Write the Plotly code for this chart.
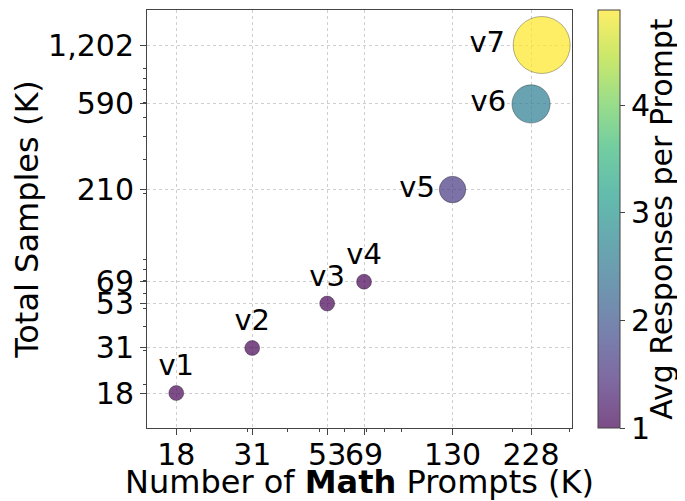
import numpy as np
import plotly.graph_objects as go
import plotly.express as px

# Data
versions = ["v1", "v2", "v3", "v4", "v5", "v6", "v7"]
math_prompts = [18, 31, 53, 69, 130, 228, 246]        # K
total_samples = [18, 31, 53, 69, 210, 590, 1202]      # K

x_tickvals = [18, 31, 53, 69, 130, 228]
x_ticktext = ["18", "31", "53", "69", "130", "228"]
y_tickvals = [18, 31, 53, 69, 210, 590, 1202]
y_ticktext = ["18", "31", "53", "69", "210", "590", "1,202"]

avg_resp = np.array(total_samples) / np.array(math_prompts)

# bubble diameter grows with responses per prompt
sizes = np.sqrt(780 * avg_resp - 555)

# viridis with 0.7 alpha (matplotlib look)
def to_rgba(h, a=0.7):
    h = h.lstrip("#")
    r, g, b = int(h[0:2], 16), int(h[2:4], 16), int(h[4:6], 16)
    return f"rgba({r},{g},{b},{a})"

vir = px.colors.sequential.Viridis
cscale = [[i / (len(vir) - 1), to_rgba(c)] for i, c in enumerate(vir)]

textpos = ["top center"] * 4 + ["middle left"] * 3

FONT = "DejaVu Sans"
FS = 30      # ticks
FL = 29      # point labels
FT = 32      # axis titles

fig = go.Figure(go.Scatter(
    x=math_prompts,
    y=total_samples,
    mode="markers+text",
    text=versions,
    textposition=textpos,
    textfont=dict(family=FONT, size=FL, color="black"),
    marker=dict(
        size=sizes,
        sizemode="diameter",
        color=avg_resp,
        colorscale=cscale,
        cmin=avg_resp.min(),
        cmax=avg_resp.max(),
        opacity=1,
        line=dict(color="rgba(0,0,0,0.6)", width=0.5),
        showscale=True,
        colorbar=dict(
            x=1.061, xanchor="left", xref="paper",
            y=0, yanchor="bottom", len=1, lenmode="fraction",
            thickness=22, xpad=0, ypad=0,
            outlinecolor="#444", outlinewidth=1,
            tickvals=[1, 2, 3, 4],
            ticks="outside", ticklen=5, tickcolor="#444",
            tickfont=dict(family=FONT, size=FS, color="black"),
        ),
    ),
    showlegend=False,
    hoverinfo="skip",
))

axis_common = dict(
    type="log", automargin=False, tickangle=0,
    showline=True, mirror=True, linecolor="#444", linewidth=1,
    ticks="outside", ticklen=6, tickcolor="#444",
    showgrid=True, gridcolor="#cfcfcf", griddash="dot", gridwidth=1,
    zeroline=False,
    tickfont=dict(family=FONT, size=FS, color="black"),
)

fig.update_xaxes(
    **axis_common,
    range=[np.log10(14.6), np.log10(305.6)],
    tickmode="array", tickvals=x_tickvals, ticktext=x_ticktext,
    ticklabelstandoff=-6,
    minor=dict(tickmode="array", tickvals=[20, 30, 40, 50, 60, 70, 80, 90, 200, 300],
               ticks="outside", ticklen=3, tickcolor="#444", showgrid=False),
    title=dict(text="Number of <b>Math</b> Prompts (K)", standoff=0,
               font=dict(family=FONT, size=FT, color="black")),
)
fig.update_yaxes(
    **axis_common,
    range=[np.log10(11.8), np.log10(1834)],
    tickmode="array", tickvals=y_tickvals, ticktext=y_ticktext,
    minor=dict(tickmode="array",
               tickvals=[20, 30, 40, 50, 60, 70, 80, 90, 200, 300, 400, 500, 600, 700, 800, 900],
               ticks="outside", ticklen=3, tickcolor="#444", showgrid=False),
    title=dict(text="Total Samples (K)", standoff=18,
               font=dict(family=FONT, size=FT, color="black")),
)

# colorbar label, rotated, placed beside the bar
fig.add_annotation(
    text="Avg Responses per Prompt", textangle=-90,
    xref="paper", yref="paper", x=1.209, y=0.5,
    xanchor="center", yanchor="middle", showarrow=False,
    font=dict(family=FONT, size=30, color="black"),
)

# page body has an 8px margin, so the figure is shrunk by that amount
fig.update_layout(
    width=677, height=493,
    margin=dict(l=139, r=113, t=2, b=73, autoexpand=False),
    plot_bgcolor="white", paper_bgcolor="white",
    font=dict(family=FONT, size=FS, color="black"),
)

fig.write_html("out.html")
